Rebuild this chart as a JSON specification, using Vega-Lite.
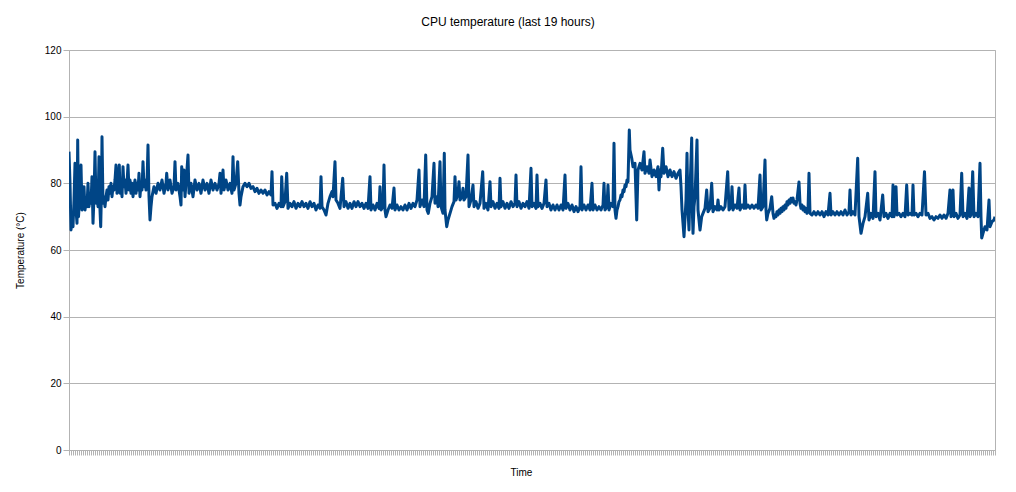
{
"$schema":"https://vega.github.io/schema/vega-lite/v6.json",
"width":926,"height":400,
"autosize":{"type":"none"},
"padding":{"left":69,"top":50,"right":21,"bottom":42},
"background":"white",
"title":{"text":"CPU temperature (last 19 hours)","font":"Liberation Sans","fontSize":12,"fontWeight":"normal","color":"#000000","anchor":"middle","dx":-24,"offset":16},
"config":{"view":{"stroke":"#b3b3b3","strokeWidth":1},"axis":{"labelFont":"Liberation Sans","titleFont":"Liberation Sans","titleFontWeight":"normal","titleColor":"#000000","labelColor":"#000000","domainColor":"#b3b3b3","tickColor":"#b3b3b3","gridColor":"#b3b3b3"}},
"data":{"values":[
{"x":0,"t":89.5},{"x":1,"t":80},{"x":2,"t":66},{"x":3,"t":70},{"x":4,"t":67},{"x":5,"t":75},{"x":6,"t":86},{"x":7,"t":72},{"x":8,"t":68},{"x":8.7,"t":93},{"x":9.5,"t":70},{"x":10.5,"t":75},{"x":12,"t":85.5},{"x":13,"t":72},{"x":14,"t":74},{"x":15,"t":79},{"x":16,"t":72},{"x":17,"t":75},{"x":18,"t":73},{"x":19,"t":80},{"x":20,"t":73},{"x":21,"t":76},{"x":22,"t":74},{"x":23,"t":82},{"x":24,"t":68},{"x":25,"t":76},{"x":26,"t":89.5},{"x":27,"t":74},{"x":28,"t":77},{"x":29,"t":73},{"x":30,"t":88},{"x":31,"t":72},{"x":31.7,"t":67},{"x":32.5,"t":78},{"x":33,"t":94},{"x":34,"t":74},{"x":35,"t":76},{"x":36,"t":73},
{"x":37,"t":76},{"x":38,"t":78},{"x":39,"t":75},{"x":40,"t":79},{"x":41,"t":77},{"x":42,"t":80},{"x":43,"t":76},{"x":44,"t":79},{"x":45,"t":78},{"x":46,"t":81},{"x":47,"t":85.5},{"x":48,"t":77},{"x":49,"t":80},{"x":50.3,"t":85.5},{"x":51,"t":77},{"x":52,"t":80},{"x":53,"t":76},{"x":54,"t":85},{"x":55,"t":79},{"x":56,"t":81},{"x":57,"t":77},{"x":58,"t":80},{"x":59,"t":85.5},{"x":60,"t":78},{"x":61,"t":81},{"x":62,"t":77},{"x":63,"t":80},{"x":64,"t":76},{"x":65,"t":79},{"x":66,"t":81},{"x":67,"t":77},{"x":68,"t":80},{"x":69,"t":78},{"x":70,"t":83},{"x":71,"t":76},{"x":72,"t":80},{"x":73,"t":78},{"x":74,"t":86.5},{"x":75,"t":79},{"x":76,"t":81},{"x":77,"t":78},{"x":78,"t":80},{"x":79,"t":91.5},{"x":80,"t":76},{"x":81,"t":69},{"x":82,"t":73},{"x":83,"t":76},
{"x":85,"t":79},{"x":87,"t":77},{"x":89,"t":80},{"x":91,"t":78},{"x":93,"t":81},{"x":95,"t":77},{"x":97,"t":80},{"x":97.7,"t":83},{"x":99,"t":78},{"x":101,"t":81},{"x":103,"t":77},{"x":105,"t":79},{"x":106,"t":86.5},{"x":107,"t":78},{"x":109,"t":80},{"x":111,"t":76},{"x":112,"t":73.5},{"x":112.7,"t":85},{"x":114,"t":78},{"x":115,"t":84},{"x":116,"t":76},{"x":117,"t":80},{"x":119,"t":88.5},{"x":120,"t":77},{"x":122,"t":80},{"x":124,"t":76},{"x":126,"t":81},{"x":128,"t":78},{"x":130,"t":80},{"x":132,"t":77},{"x":134,"t":81},{"x":136,"t":78},{"x":138,"t":80},{"x":140,"t":77},{"x":142,"t":81},{"x":144,"t":78},{"x":146,"t":80},{"x":148,"t":78},{"x":150,"t":80},{"x":151,"t":83},{"x":152,"t":77},{"x":153,"t":80},{"x":154,"t":84},{"x":155,"t":78},{"x":157,"t":81},{"x":159,"t":78},{"x":161,"t":80},{"x":163,"t":77},{"x":164,"t":88},{"x":165,"t":78},{"x":167,"t":80},{"x":168.7,"t":86.5},{"x":170,"t":77},{"x":171,"t":73.5},{"x":172,"t":76},{"x":174,"t":79},{"x":176,"t":80},{"x":178,"t":79},{"x":180,"t":80},{"x":182,"t":78.5},{"x":184,"t":79},{"x":186,"t":77.5},{"x":188,"t":78.5},{"x":190,"t":77},{"x":192,"t":78},{"x":194,"t":77},{"x":196,"t":78},{"x":198,"t":76.5},{"x":200,"t":77.5},{"x":202,"t":76.5},{"x":203,"t":83.5},{"x":204,"t":73.5},
{"x":206,"t":74},{"x":208,"t":72.5},{"x":210,"t":74},{"x":212,"t":73},{"x":212.7,"t":82},{"x":214,"t":73},{"x":216,"t":74.5},{"x":217.7,"t":83},{"x":219,"t":72.5},{"x":221,"t":74},{"x":223,"t":73},{"x":225,"t":74.5},{"x":227,"t":72.5},{"x":229,"t":74},{"x":231,"t":73},{"x":233,"t":74.5},{"x":235,"t":73},{"x":237,"t":74},{"x":239,"t":72.5},{"x":241,"t":74.5},{"x":243,"t":73},{"x":245,"t":74},{"x":247,"t":72},{"x":249,"t":73.5},{"x":251,"t":72.5},{"x":252,"t":82},{"x":253,"t":73},{"x":255,"t":72},{"x":257,"t":70.5},{"x":259,"t":74},{"x":261,"t":76},{"x":263,"t":77.5},{"x":264,"t":76},{"x":266,"t":86.5},{"x":267,"t":75},{"x":269,"t":74},{"x":271,"t":72.5},{"x":273.7,"t":81.5},{"x":275,"t":73},
{"x":277,"t":74.5},{"x":279,"t":72.5},{"x":281,"t":74},{"x":283,"t":72.5},{"x":285,"t":74.5},{"x":287,"t":73},{"x":289,"t":74.5},{"x":291,"t":73},{"x":293,"t":74},{"x":295,"t":72.5},{"x":297,"t":74},{"x":299,"t":72.5},{"x":301,"t":82},{"x":302,"t":72},{"x":304,"t":73.5},{"x":306,"t":72},{"x":308,"t":74},{"x":310,"t":72.5},{"x":311,"t":79},{"x":312,"t":72},{"x":314,"t":73},{"x":315,"t":85.5},{"x":316,"t":72},{"x":317,"t":70},{"x":319,"t":72},{"x":321,"t":73.5},{"x":323,"t":72.5},{"x":325,"t":78.6},{"x":326,"t":72},{"x":328,"t":73.5},{"x":330,"t":72},{"x":332,"t":73},{"x":334,"t":72},{"x":336,"t":73.5},{"x":338,"t":72},{"x":340,"t":74},{"x":342,"t":72.5},{"x":344,"t":74},{"x":346,"t":73},{"x":348,"t":75},{"x":350,"t":84},{"x":351,"t":73},{"x":353,"t":75},{"x":355,"t":73},{"x":356.7,"t":88.5},{"x":358,"t":72},{"x":359.3,"t":71},{"x":361,"t":74},{"x":363,"t":76},{"x":365,"t":86},{"x":366,"t":74},{"x":368,"t":76},{"x":369,"t":73},{"x":371,"t":86.5},{"x":372,"t":73},{"x":374,"t":71},{"x":375.3,"t":89},{"x":376,"t":72},{"x":377.7,"t":67},{"x":379,"t":69},{"x":381,"t":71},{"x":383,"t":73},{"x":385,"t":74.5},{"x":386,"t":82},{"x":387,"t":75},{"x":389,"t":77},{"x":390,"t":80.5},{"x":391,"t":75},{"x":393,"t":76},{"x":394,"t":78.5},{"x":395,"t":75},{"x":397,"t":76},{"x":399,"t":88.5},{"x":400,"t":73},{"x":402,"t":75},{"x":404,"t":79.5},{"x":405,"t":73},{"x":407,"t":74.5},{"x":409,"t":72.5},{"x":411,"t":74},{"x":413.7,"t":83.5},{"x":415,"t":72.5},{"x":417,"t":74},{"x":419,"t":72},{"x":421,"t":80.5},{"x":422,"t":73},{"x":424,"t":74.5},{"x":426,"t":72.5},{"x":428,"t":74},{"x":430,"t":72.5},{"x":431,"t":81.5},{"x":432,"t":73},{"x":434,"t":74.5},{"x":436,"t":72.5},{"x":438,"t":74},{"x":440,"t":72.5},{"x":442,"t":74.5},{"x":444,"t":73},{"x":446,"t":74},{"x":447,"t":82.5},{"x":448,"t":73},{"x":450,"t":74.5},{"x":452,"t":72.5},{"x":454,"t":74},{"x":456,"t":73},{"x":458,"t":74.5},{"x":460,"t":72.5},{"x":462,"t":84.5},{"x":463,"t":73},{"x":465,"t":74},{"x":467,"t":72.5},{"x":468,"t":82.5},{"x":469,"t":73},{"x":471,"t":74},{"x":473,"t":72.5},{"x":475,"t":74},{"x":477,"t":81},{"x":478,"t":73},{"x":480,"t":74},{"x":482,"t":72},{"x":484,"t":73.5},{"x":486,"t":72},{"x":488,"t":73.5},{"x":490,"t":72},{"x":492,"t":73.5},{"x":494,"t":72},{"x":496,"t":82.5},{"x":497,"t":72.5},{"x":499,"t":74},{"x":501,"t":72},{"x":503,"t":73.5},{"x":505,"t":71.5},{"x":507,"t":73},{"x":509,"t":71.5},{"x":511,"t":73},{"x":512,"t":85},{"x":513,"t":72},{"x":515,"t":73.5},{"x":517,"t":72},{"x":519,"t":73.5},{"x":521,"t":72},{"x":523,"t":80},{"x":524,"t":72},{"x":526,"t":73.5},{"x":528,"t":72},{"x":530,"t":73},{"x":532,"t":72},{"x":534,"t":73.5},{"x":535,"t":80},{"x":536,"t":72},{"x":538,"t":73},{"x":539,"t":79.5},{"x":540,"t":72},{"x":542,"t":74},{"x":544,"t":73},{"x":545,"t":92},{"x":546,"t":72},{"x":547,"t":69.5},{"x":548,"t":72},{"x":549,"t":73},{"x":550,"t":74.5},{"x":551,"t":75},{"x":552,"t":76.5},{"x":553,"t":76},{"x":554,"t":78},{"x":555,"t":77.5},{"x":556,"t":79.5},{"x":557,"t":79},{"x":558,"t":81},{"x":559,"t":80.5},{"x":560.3,"t":96},{"x":561,"t":90},{"x":562.7,"t":87.6},{"x":564,"t":85},{"x":566,"t":86},{"x":567.7,"t":69},{"x":569,"t":84},{"x":571,"t":86},{"x":573,"t":84},{"x":575,"t":89.5},{"x":576,"t":83},{"x":578,"t":85},{"x":580,"t":83},{"x":581,"t":87},{"x":583,"t":82},{"x":585,"t":84},{"x":587,"t":82},{"x":589,"t":85},{"x":590,"t":78},{"x":591,"t":84},{"x":592,"t":82},{"x":593.7,"t":90.5},{"x":595,"t":83},{"x":597,"t":85},{"x":599,"t":82},{"x":601,"t":84},{"x":603,"t":82},{"x":605,"t":83.5},{"x":607,"t":81.5},{"x":609,"t":83},{"x":611,"t":84},{"x":612,"t":79},{"x":613,"t":72},{"x":615,"t":64},{"x":617,"t":75},{"x":618,"t":89},{"x":619,"t":72},{"x":620,"t":66},{"x":621,"t":78},{"x":622.7,"t":93.6},{"x":623.5,"t":70},{"x":624,"t":65},{"x":625,"t":73},{"x":626,"t":76},{"x":628,"t":93},{"x":629,"t":72},{"x":631,"t":66},{"x":632.7,"t":70},{"x":634,"t":71},{"x":636,"t":72.5},{"x":637.7,"t":78},{"x":639,"t":71.5},{"x":641,"t":72.5},{"x":642.7,"t":80},{"x":644,"t":71.5},{"x":646,"t":73},{"x":648,"t":72},{"x":649,"t":75},{"x":650,"t":72},{"x":652,"t":73},{"x":654,"t":72},{"x":656,"t":73},{"x":658.7,"t":83.5},{"x":660,"t":72},{"x":662,"t":73},{"x":663,"t":79},{"x":664,"t":72},{"x":666,"t":73.5},{"x":668,"t":72.5},{"x":670,"t":78.6},{"x":671,"t":72},{"x":673,"t":73.5},{"x":675,"t":72.5},{"x":676,"t":79.5},{"x":677,"t":72.5},{"x":679,"t":73.5},{"x":681,"t":72.5},{"x":683,"t":73.5},{"x":685,"t":72.5},{"x":687,"t":73.5},{"x":689,"t":72.5},{"x":691,"t":82.5},{"x":692,"t":72},{"x":694,"t":73},{"x":696,"t":87},{"x":697,"t":72},{"x":697.7,"t":69},{"x":699,"t":71},{"x":701,"t":72.5},{"x":702.7,"t":76},{"x":704,"t":71},{"x":705,"t":69.5},{"x":706,"t":70.5},{"x":707,"t":70},{"x":708,"t":71.5},{"x":709,"t":70.5},{"x":710,"t":72},{"x":711,"t":71},{"x":712,"t":72.5},{"x":713,"t":71.5},{"x":714,"t":73},{"x":715,"t":72},{"x":716,"t":73.5},{"x":717,"t":72.5},{"x":718,"t":74.5},{"x":719,"t":73.5},{"x":720,"t":75},{"x":721,"t":74},{"x":722,"t":75.5},{"x":723,"t":74.5},{"x":724,"t":75.6},{"x":725,"t":74},{"x":726,"t":74.5},{"x":727,"t":73.5},{"x":728,"t":75},{"x":730,"t":80.4},{"x":731,"t":74},{"x":732,"t":72.5},{"x":733,"t":73.5},{"x":734,"t":72},{"x":735,"t":73},{"x":736,"t":71.5},{"x":737,"t":72.5},{"x":738,"t":71},{"x":739,"t":72},{"x":740,"t":83},{"x":741,"t":71},{"x":743,"t":70.5},{"x":745,"t":71.5},{"x":747,"t":70.5},{"x":749,"t":71.5},{"x":751,"t":70.5},{"x":753,"t":71.5},{"x":755,"t":70},{"x":757,"t":71.5},{"x":759,"t":70.5},{"x":761,"t":77},{"x":762,"t":70.5},{"x":764,"t":71.5},{"x":766,"t":70.5},{"x":768,"t":71.5},{"x":770,"t":70.5},{"x":772,"t":71.5},{"x":774,"t":70.5},{"x":776,"t":72},{"x":778,"t":70.5},{"x":780,"t":71.5},{"x":781,"t":78},{"x":782,"t":70.5},{"x":784,"t":71.5},{"x":786,"t":70.5},{"x":788.7,"t":87.5},{"x":790,"t":70},{"x":792,"t":65},{"x":794,"t":68},{"x":796,"t":70},{"x":798.7,"t":77},{"x":800,"t":69},{"x":802,"t":71},{"x":804,"t":69.5},{"x":806,"t":83.5},{"x":807,"t":70},{"x":809,"t":71},{"x":811,"t":69},{"x":813.7,"t":76.5},{"x":815,"t":70},{"x":817,"t":71},{"x":819,"t":69.5},{"x":821,"t":71},{"x":823,"t":70},{"x":824,"t":79.5},{"x":825,"t":70},{"x":827,"t":79},{"x":828,"t":70.5},{"x":830,"t":71},{"x":832,"t":70},{"x":834,"t":71},{"x":836,"t":70},{"x":837.7,"t":79.5},{"x":839,"t":70.5},{"x":841,"t":71},{"x":843,"t":70.5},{"x":844,"t":79.5},{"x":845,"t":70.5},{"x":847,"t":71},{"x":849,"t":70},{"x":851,"t":71},{"x":853,"t":70.5},{"x":855.5,"t":83.5},{"x":857,"t":70.5},{"x":859,"t":71},{"x":861,"t":69.5},{"x":863,"t":70},{"x":865,"t":69},{"x":867,"t":70},{"x":869,"t":69.5},{"x":871,"t":70.5},{"x":873,"t":69.5},{"x":875,"t":70.5},{"x":877,"t":69.5},{"x":879,"t":71},{"x":881,"t":78},{"x":882,"t":70},{"x":884,"t":78},{"x":885,"t":70},{"x":887,"t":71},{"x":889,"t":69.5},{"x":891,"t":70.5},{"x":892.7,"t":83},{"x":894,"t":70},{"x":896,"t":71},{"x":898,"t":69.5},{"x":900,"t":78.6},{"x":901,"t":70},{"x":902,"t":70.5},{"x":903.7,"t":83.5},{"x":905,"t":70},{"x":907,"t":71},{"x":909,"t":70},{"x":911,"t":86},{"x":912,"t":70},{"x":912.7,"t":63.6},{"x":914,"t":65},{"x":916,"t":67},{"x":918,"t":66},{"x":920,"t":75},{"x":921,"t":67},{"x":923,"t":68.5},{"x":925,"t":69},{"x":926,"t":70}
]},
"mark":{"type":"line","color":"#004586","strokeWidth":3,"strokeJoin":"round","clip":true},
"encoding":{
"x":{"field":"x","type":"quantitative","scale":{"domain":[0,926],"nice":false,"zero":false},"axis":{"title":"Time","labels":false,"grid":false,"tickCount":463,"tickSize":5,"titleFontSize":10,"titlePadding":12,"titleX":452}},
"y":{"field":"t","type":"quantitative","scale":{"domain":[0,120],"nice":false},"axis":{"values":[0,20,40,60,80,100,120],"title":"Temperature (°C)","grid":true,"tickSize":6,"labelFontSize":10,"labelPadding":2,"titleFontSize":10,"titlePadding":19}}
}
}
